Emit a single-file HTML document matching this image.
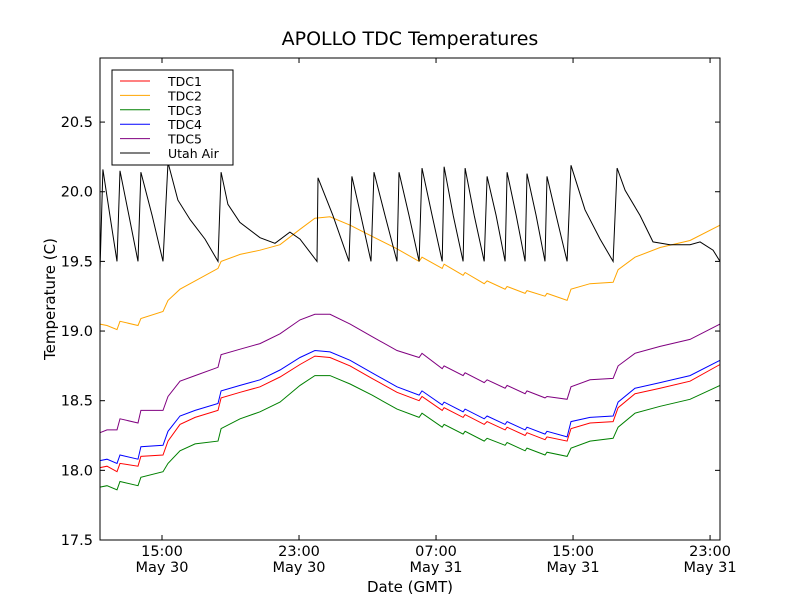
<!DOCTYPE html>
<html><head><meta charset="utf-8"><style>
body{margin:0;background:#fff}
svg{display:block;font-family:"DejaVu Sans","Liberation Sans",sans-serif}
</style></head><body>
<svg id="chart" width="800" height="600" viewBox="0 0 800 600" xmlns="http://www.w3.org/2000/svg">
<rect width="800" height="600" fill="#fff"/>
<text x="410" y="45" font-size="19" text-anchor="middle">APOLLO TDC Temperatures</text>
<text transform="translate(55,299) rotate(-90)" font-size="15" text-anchor="middle">Temperature (C)</text>
<text x="410" y="592" font-size="15" text-anchor="middle">Date (GMT)</text>
<g id="plot"></g>
<rect x="100" y="58" width="620" height="482" fill="none" stroke="#000" stroke-width="1"/>
<g>
<rect x="112" y="70" width="121" height="95" fill="#fff" stroke="#000" stroke-width="1"/>
<g id="legend-items"></g>
</g>
</svg>
<script>
// time axis: hours since 00:00 May 30 (GMT)
const times = [11.38,11.79,12.37,12.55,13.60,13.77,15.06,15.35,16.05,16.93,18.27,18.45,19.56,20.72,21.89,23.06,23.93,24.81,25.98,27.26,28.72,30.01,30.18,31.36,31.47,32.58,32.70,33.81,33.98,35.03,35.15,36.20,36.31,37.36,37.48,38.65,38.88,39.99,41.34,41.63,42.62,44.08,45.83,47.58];
const tdc1 = [18.02,18.03,17.99,18.05,18.03,18.10,18.11,18.21,18.33,18.38,18.43,18.52,18.56,18.60,18.67,18.76,18.82,18.81,18.75,18.66,18.56,18.50,18.53,18.43,18.45,18.38,18.40,18.33,18.35,18.29,18.31,18.25,18.27,18.22,18.24,18.21,18.30,18.34,18.35,18.45,18.55,18.59,18.64,18.76];
const tdc2 = [19.05,19.04,19.01,19.07,19.04,19.09,19.14,19.22,19.30,19.36,19.45,19.50,19.55,19.58,19.62,19.73,19.81,19.82,19.76,19.68,19.59,19.50,19.53,19.45,19.48,19.40,19.42,19.34,19.36,19.30,19.32,19.27,19.29,19.25,19.27,19.22,19.30,19.34,19.35,19.44,19.53,19.60,19.65,19.76];
const tdc3 = [17.88,17.89,17.86,17.92,17.89,17.95,17.99,18.05,18.14,18.19,18.21,18.30,18.37,18.42,18.49,18.61,18.68,18.68,18.62,18.54,18.44,18.38,18.41,18.31,18.33,18.26,18.28,18.21,18.23,18.18,18.20,18.14,18.16,18.11,18.13,18.10,18.16,18.21,18.23,18.31,18.41,18.46,18.51,18.61];
const tdc4 = [18.07,18.08,18.05,18.11,18.08,18.17,18.18,18.28,18.39,18.43,18.48,18.57,18.61,18.65,18.72,18.81,18.86,18.85,18.79,18.70,18.60,18.54,18.57,18.47,18.49,18.42,18.44,18.37,18.39,18.33,18.35,18.29,18.31,18.26,18.28,18.24,18.35,18.38,18.39,18.49,18.59,18.63,18.68,18.79];
const tdc5 = [18.27,18.29,18.29,18.37,18.34,18.43,18.43,18.53,18.64,18.68,18.74,18.83,18.87,18.91,18.98,19.08,19.12,19.12,19.05,18.96,18.86,18.81,18.84,18.73,18.75,18.68,18.70,18.63,18.65,18.59,18.61,18.55,18.57,18.52,18.53,18.51,18.60,18.65,18.66,18.75,18.84,18.89,18.94,19.05];
const airTimes = [11.38,11.55,11.96,12.37,12.55,13.07,13.60,13.77,14.42,15.06,15.35,15.93,16.64,17.51,18.27,18.45,18.85,19.55,20.72,21.60,22.47,23.06,24.05,24.11,24.98,25.92,26.09,26.61,27.20,27.38,28.02,28.72,28.84,29.42,30.01,30.18,30.77,31.36,31.47,32.00,32.58,32.70,33.23,33.81,33.98,34.51,35.03,35.15,35.68,36.20,36.31,36.84,37.36,37.48,38.01,38.65,38.88,39.70,40.58,41.34,41.57,42.04,42.91,43.67,44.66,45.83,46.42,47.18,47.58];
const airVals = [19.44,20.16,19.83,19.50,20.15,19.83,19.50,20.14,19.83,19.50,20.21,19.94,19.80,19.66,19.50,20.14,19.91,19.78,19.67,19.63,19.71,19.66,19.50,20.10,19.83,19.50,20.11,19.83,19.50,20.14,19.83,19.50,20.14,19.83,19.50,20.17,19.83,19.50,20.18,19.83,19.50,20.17,19.83,19.50,20.11,19.83,19.50,20.14,19.83,19.50,20.13,19.83,19.50,20.11,19.83,19.50,20.19,19.87,19.66,19.50,20.17,20.01,19.83,19.64,19.62,19.62,19.64,19.58,19.50];
const yTicks = [17.5,18.0,18.5,19.0,19.5,20.0,20.5];
const xTicks = [15,23,31,39,47];
const xTickTimes = ["15:00","23:00","07:00","15:00","23:00"];
const xTickDates = ["May 30","May 30","May 31","May 31","May 31"];
const seriesNames = ["TDC1","TDC2","TDC3","TDC4","TDC5","Utah Air"];

const X0=100,X1=720,Y0=540,Y1=58,TMIN=11.38,TMAX=47.58,VMIN=17.5,VMAX=20.96;
function xs(t){return X0+(t-TMIN)/(TMAX-TMIN)*(X1-X0);}
function ys(v){return Y0-(v-VMIN)/(VMAX-VMIN)*(Y0-Y1);}
const NS="http://www.w3.org/2000/svg";
const plot=document.getElementById('plot');
function mk(tag,attrs,parent){const e=document.createElementNS(NS,tag);for(const k in attrs)e.setAttribute(k,attrs[k]);parent.appendChild(e);return e;}

yTicks.forEach(v=>{
  const y=ys(v);
  const t=mk('line',{x1:X0,x2:X0+5,y1:y,y2:y,stroke:'#000'},plot);
  
  
  const t2=mk('line',{x1:X1-5,x2:X1,y1:y,y2:y,stroke:'#000'},plot);
  
  
  const l=mk('text',{x:X0-7,y:y+5,'font-size':14.5,'text-anchor':'end'},plot);
  l.textContent=v.toFixed(1);
  
  
});
xTicks.forEach((t,i)=>{
  const x=xs(t);
  const a=mk('line',{x1:x,x2:x,y1:Y0,y2:Y0-5,stroke:'#000'},plot);
  
  
  const b=mk('line',{x1:x,x2:x,y1:Y1,y2:Y1+5,stroke:'#000'},plot);
  
  
  const l=mk('text',{x:x,y:556,'font-size':14.5,'text-anchor':'middle'},plot);
  l.textContent=xTickTimes[i];
  
  
  const d=mk('text',{x:x,y:572,'font-size':14.5,'text-anchor':'middle'},plot);
  d.textContent=xTickDates[i];
  
  
});

const colors=["#ff0000","#ffa500","#008000","#0000ff","#800080","#000000"];
const allSeries=[[times,tdc1],[times,tdc2],[times,tdc3],[times,tdc4],[times,tdc5],[airTimes,airVals]];
const names=["tdc1-line","tdc2-line","tdc3-line","tdc4-line","tdc5-line","utah-air-line"];
allSeries.forEach((s,i)=>{
  const pts=s[0].map((t,j)=>xs(t).toFixed(1)+','+ys(s[1][j]).toFixed(1)).join(' ');
  const p=mk('polyline',{points:pts,fill:'none',stroke:colors[i],'stroke-width':1},plot);
  
  
});

const leg=document.getElementById('legend-items');
seriesNames.forEach((n,i)=>{
  const y=81+i*14.4;
  const l=mk('line',{x1:120,x2:150,y1:y,y2:y,stroke:colors[i],'stroke-width':1},leg);
  
  
  const t=mk('text',{x:168,y:y+5,'font-size':12.5},leg);
  t.textContent=n;
  
  
});
</script>
</body></html>
